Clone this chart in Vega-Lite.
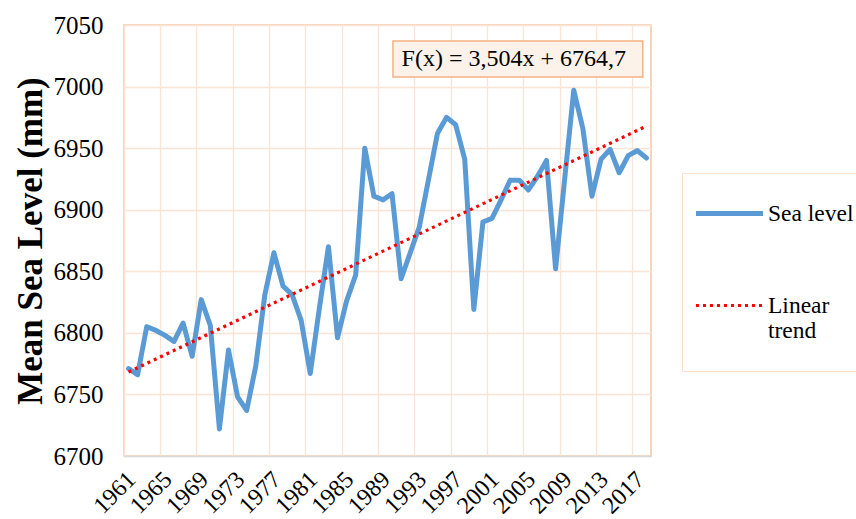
{
  "$schema": "https://vega.github.io/schema/vega-lite/v6.json",
  "width": 527,
  "height": 431,
  "autosize": {"type": "none"},
  "padding": {"left": 124, "top": 25, "right": 205, "bottom": 63},
  "background": "white",
  "config": {
    "font": "Liberation Serif",
    "view": {"stroke": "#F4C6A3", "strokeWidth": 1.5}
  },
  "datasets": {
    "sea": [
      {"year": 1961, "value": 6771, "series": "Sea level"},
      {"year": 1962, "value": 6766, "series": "Sea level"},
      {"year": 1963, "value": 6805, "series": "Sea level"},
      {"year": 1964, "value": 6802, "series": "Sea level"},
      {"year": 1965, "value": 6798, "series": "Sea level"},
      {"year": 1966, "value": 6793, "series": "Sea level"},
      {"year": 1967, "value": 6808, "series": "Sea level"},
      {"year": 1968, "value": 6781, "series": "Sea level"},
      {"year": 1969, "value": 6827, "series": "Sea level"},
      {"year": 1970, "value": 6806, "series": "Sea level"},
      {"year": 1971, "value": 6722, "series": "Sea level"},
      {"year": 1972, "value": 6786, "series": "Sea level"},
      {"year": 1973, "value": 6748, "series": "Sea level"},
      {"year": 1974, "value": 6737, "series": "Sea level"},
      {"year": 1975, "value": 6773, "series": "Sea level"},
      {"year": 1976, "value": 6831, "series": "Sea level"},
      {"year": 1977, "value": 6865, "series": "Sea level"},
      {"year": 1978, "value": 6838, "series": "Sea level"},
      {"year": 1979, "value": 6831, "series": "Sea level"},
      {"year": 1980, "value": 6810, "series": "Sea level"},
      {"year": 1981, "value": 6767, "series": "Sea level"},
      {"year": 1982, "value": 6820, "series": "Sea level"},
      {"year": 1983, "value": 6870, "series": "Sea level"},
      {"year": 1984, "value": 6796, "series": "Sea level"},
      {"year": 1985, "value": 6826, "series": "Sea level"},
      {"year": 1986, "value": 6847, "series": "Sea level"},
      {"year": 1987, "value": 6950, "series": "Sea level"},
      {"year": 1988, "value": 6911, "series": "Sea level"},
      {"year": 1989, "value": 6908, "series": "Sea level"},
      {"year": 1990, "value": 6913, "series": "Sea level"},
      {"year": 1991, "value": 6844, "series": "Sea level"},
      {"year": 1992, "value": 6865, "series": "Sea level"},
      {"year": 1993, "value": 6886, "series": "Sea level"},
      {"year": 1994, "value": 6924, "series": "Sea level"},
      {"year": 1995, "value": 6962, "series": "Sea level"},
      {"year": 1996, "value": 6975, "series": "Sea level"},
      {"year": 1997, "value": 6969, "series": "Sea level"},
      {"year": 1998, "value": 6941, "series": "Sea level"},
      {"year": 1999, "value": 6819, "series": "Sea level"},
      {"year": 2000, "value": 6890, "series": "Sea level"},
      {"year": 2001, "value": 6893, "series": "Sea level"},
      {"year": 2002, "value": 6908, "series": "Sea level"},
      {"year": 2003, "value": 6924, "series": "Sea level"},
      {"year": 2004, "value": 6924, "series": "Sea level"},
      {"year": 2005, "value": 6916, "series": "Sea level"},
      {"year": 2006, "value": 6927, "series": "Sea level"},
      {"year": 2007, "value": 6940, "series": "Sea level"},
      {"year": 2008, "value": 6852, "series": "Sea level"},
      {"year": 2009, "value": 6925, "series": "Sea level"},
      {"year": 2010, "value": 6997, "series": "Sea level"},
      {"year": 2011, "value": 6966, "series": "Sea level"},
      {"year": 2012, "value": 6911, "series": "Sea level"},
      {"year": 2013, "value": 6941, "series": "Sea level"},
      {"year": 2014, "value": 6949, "series": "Sea level"},
      {"year": 2015, "value": 6930, "series": "Sea level"},
      {"year": 2016, "value": 6944, "series": "Sea level"},
      {"year": 2017, "value": 6948, "series": "Sea level"},
      {"year": 2018, "value": 6942, "series": "Sea level"}
    ],
    "trend": [
      {"year": 1961, "value": 6768.2, "series": "Linear trend"},
      {"year": 2018, "value": 6967.9, "series": "Linear trend"}
    ],
    "box": [
      {"x1": 1990.1, "x2": 2017.6, "value": 7007.8, "value2": 7037.0}
    ],
    "label": [
      {"x": 2003.4, "value": 7022.4, "text": "F(x) = 3,504x + 6764,7"}
    ]
  },
  "resolve": {"scale": {"x": "independent"}, "axis": {"x": "independent"}},
  "layer": [
    {
      "encoding": {
        "x": {
          "field": "year",
          "type": "ordinal",
          "bandPosition": 0.5,
          "scale": {"type": "band", "paddingInner": 0, "paddingOuter": 0},
          "axis": {
            "title": null,
            "values": [1961, 1965, 1969, 1973, 1977, 1981, 1985, 1989, 1993, 1997, 2001, 2005, 2009, 2013, 2017],
            "bandPosition": 0,
            "grid": true,
            "gridColor": "#FBE4D5",
            "gridWidth": 1.3,
            "ticks": false,
            "domain": true,
            "domainColor": "#D9D9D9",
            "domainWidth": 1.5,
            "labelAngle": -45,
            "labelAlign": "right",
            "labelBaseline": "top",
            "labelOffset": -5,
            "labelPadding": 11,
            "labelFont": "Liberation Serif",
            "labelFontSize": 24,
            "labelColor": "black"
          }
        },
        "y": {
          "field": "value",
          "type": "quantitative",
          "scale": {"domain": [6700, 7050], "nice": false, "zero": false},
          "axis": {
            "title": "Mean Sea Level (mm)",
            "titleFont": "Liberation Serif",
            "titleFontSize": 35,
            "titleFontWeight": "bold",
            "titleColor": "black",
            "titlePadding": 5,
            "format": "d",
            "values": [6700, 6750, 6800, 6850, 6900, 6950, 7000, 7050],
            "grid": true,
            "gridColor": "#FBE4D5",
            "gridWidth": 1.3,
            "ticks": false,
            "tickSize": 0,
            "domain": false,
            "labelPadding": 21,
            "labelFont": "Liberation Serif",
            "labelFontSize": 25,
            "labelColor": "black"
          }
        },
        "color": {
          "field": "series",
          "type": "nominal",
          "scale": {"domain": ["Sea level", "Linear trend"], "range": ["#5B9BD5", "#FF0000"]},
          "legend": {
            "title": " ",
            "titleOrient": "bottom",
            "titleFontSize": 20,
            "titlePadding": 4,
            "orient": "none",
            "legendX": 558,
            "legendY": 148,
            "padding": 4,
            "rowPadding": 45,
            "symbolOffset": 7,
            "labelOffset": 2,
            "labelFont": "Liberation Serif",
            "labelFontSize": 23.5,
            "labelColor": "black",
            "labelLimit": 0,
            "labelExpr": "datum.label == 'Linear trend' ? ['Linear', 'trend'] : datum.label",
            "symbolType": "stroke",
            "symbolSize": 4500,
            "strokeColor": "#FBE2D0",
            "fillColor": "white"
          }
        },
        "strokeDash": {
          "field": "series",
          "type": "nominal",
          "scale": {"domain": ["Sea level", "Linear trend"], "range": [[1, 0], [3, 4]]}
        },
        "strokeWidth": {
          "field": "series",
          "type": "nominal",
          "scale": {"domain": ["Sea level", "Linear trend"], "range": [5, 3.2]}
        }
      },
      "layer": [
        {
          "data": {"name": "sea"},
          "mark": {"type": "line", "strokeCap": "round", "strokeJoin": "round"}
        },
        {
          "data": {"name": "trend"},
          "mark": {"type": "line", "strokeCap": "butt"}
        }
      ]
    },
    {
      "data": {"name": "box"},
      "mark": {"type": "rect", "fill": "#FDF2EA", "stroke": "#F4B183", "strokeWidth": 1.5},
      "encoding": {
        "x": {"field": "x1", "type": "quantitative", "scale": {"domain": [1960.5, 2018.5], "nice": false, "zero": false}, "axis": null},
        "x2": {"field": "x2"},
        "y": {"field": "value", "type": "quantitative"},
        "y2": {"field": "value2"}
      }
    },
    {
      "data": {"name": "label"},
      "mark": {"type": "text", "font": "Liberation Serif", "fontSize": 24, "color": "black", "align": "center", "baseline": "middle"},
      "encoding": {
        "x": {"field": "x", "type": "quantitative", "scale": {"domain": [1960.5, 2018.5], "nice": false, "zero": false}, "axis": null},
        "y": {"field": "value", "type": "quantitative"},
        "text": {"field": "text"}
      }
    }
  ]
}
